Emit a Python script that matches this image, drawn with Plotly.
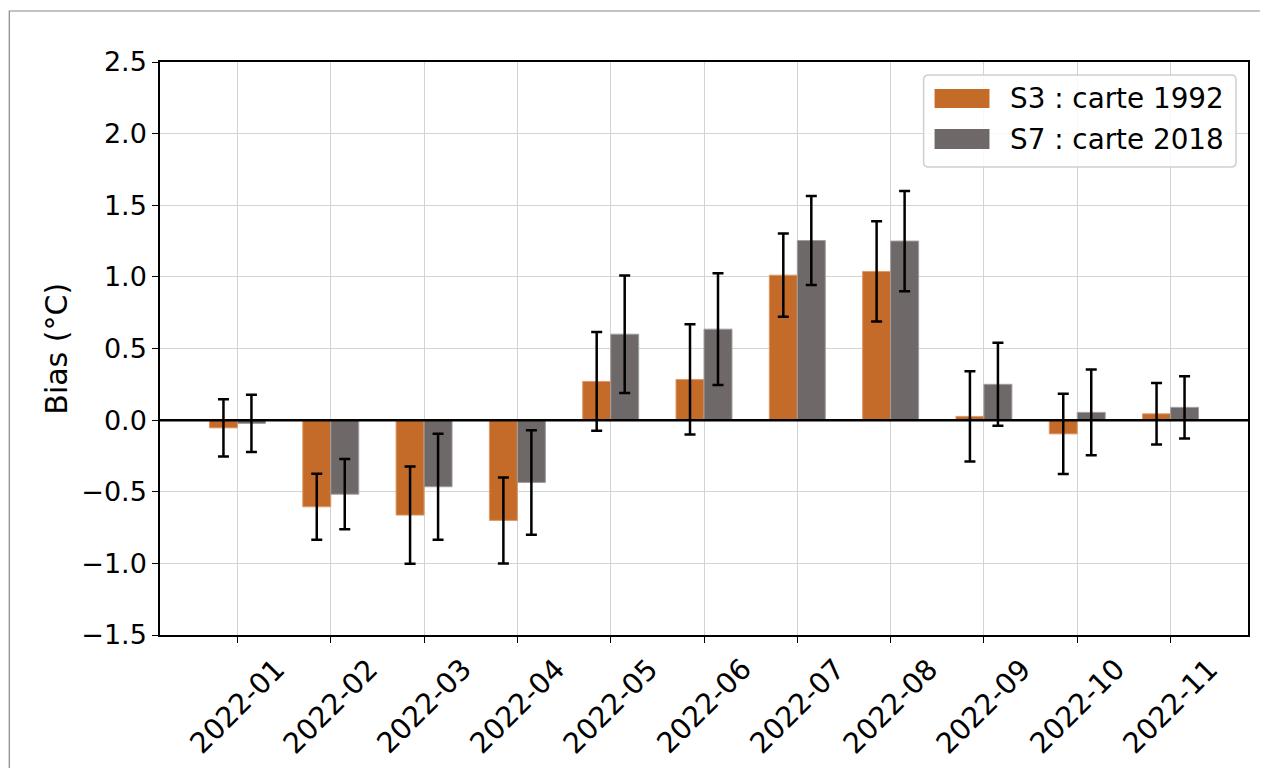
import plotly.graph_objects as go

months = ["2022-01", "2022-02", "2022-03", "2022-04", "2022-05", "2022-06",
          "2022-07", "2022-08", "2022-09", "2022-10", "2022-11"]
s3_bias = [-0.054, -0.605, -0.663, -0.70, 0.27, 0.284, 1.012, 1.038, 0.026, -0.096, 0.044]
s3_err = [0.20, 0.23, 0.34, 0.30, 0.345, 0.385, 0.29, 0.35, 0.315, 0.28, 0.215]
s7_bias = [-0.023, -0.517, -0.465, -0.435, 0.60, 0.635, 1.254, 1.25, 0.25, 0.054, 0.089]
s7_err = [0.20, 0.245, 0.37, 0.365, 0.41, 0.39, 0.31, 0.35, 0.29, 0.30, 0.217]
y_ticks = [-1.5, -1.0, -0.5, 0.0, 0.5, 1.0, 1.5, 2.0, 2.5]
y_ticktext = ["\u22121.5", "\u22121.0", "\u22120.5", "0.0", "0.5", "1.0", "1.5", "2.0", "2.5"]
series_names = ["S3 : carte 1992", "S7 : carte 2018"]
series_colors = ["#c46b29", "#6e6968"]
edge_colors = ["#dd9a66", "#a29e9d"]
y_title = "Bias (\u00b0C)"

xs = list(range(len(months)))
FONT = "DejaVu Sans"
FS_TICK = 27
FS_XTICK = 28.5
FS_LEG = 27.8
FS_TITLE = 30

# figure geometry (page body has an 8px margin)
W, H = 1252, 760
ML, MR, MT, MB = 152, 10, 54, 133
PW, PH = W - ML - MR, H - MT - MB


def px(xs_):  # screen x -> paper x
    return (xs_ - 8 - ML) / PW


def py(ys_):  # screen y -> paper y
    return (H - MB - (ys_ - 8)) / PH


fig = go.Figure()
for name, vals, errs, col, ecol in zip(series_names, [s3_bias, s7_bias], [s3_err, s7_err],
                                        series_colors, edge_colors):
    fig.add_trace(go.Bar(
        x=xs, y=vals, name=name, showlegend=False,
        marker=dict(color=col, line=dict(color=ecol, width=1)),
        error_y=dict(type="data", array=errs, color="black", thickness=2.5, width=5.5),
    ))

# legend drawn manually (wide colour patches like the original)
lx0, lx1, ly0, ly1, r = 925, 1238, 75, 167, 5
X0, X1, Y0, Y1 = px(lx0), px(lx1), py(ly0), py(ly1)
rx, ry = r / PW, r / PH
legend_path = (
    f"M {X0+rx},{Y0} L {X1-rx},{Y0} Q {X1},{Y0} {X1},{Y0-ry} "
    f"L {X1},{Y1+ry} Q {X1},{Y1} {X1-rx},{Y1} "
    f"L {X0+rx},{Y1} Q {X0},{Y1} {X0},{Y1+ry} "
    f"L {X0},{Y0-ry} Q {X0},{Y0} {X0+rx},{Y0} Z"
)
shapes = [
    dict(type="line", xref="paper", yref="y", x0=0, x1=1, y0=0, y1=0,
         line=dict(color="black", width=2.5), layer="above"),
    dict(type="rect", xref="paper", yref="paper", x0=px(9), x1=1.02,
         y0=-0.3, y1=py(11), line=dict(color="#888888", width=1.2),
         fillcolor="rgba(0,0,0,0)", layer="below"),
    dict(type="path", xref="paper", yref="paper", path=legend_path,
         fillcolor="rgba(255,255,255,0.85)", line=dict(color="#cfcfcf", width=1.5),
         layer="above"),
]
annotations = []
patch_rows = [(89, 108), (129, 149)]
for (t, b), name, col in zip(patch_rows, series_names, series_colors):
    shapes.append(dict(type="rect", xref="paper", yref="paper",
                       x0=px(936), x1=px(991), y0=py(b), y1=py(t),
                       fillcolor=col, line=dict(width=0), layer="above"))
    annotations.append(dict(xref="paper", yref="paper", x=px(1010), y=py((t + b) / 2),
                            xanchor="left", yanchor="middle", text=name, showarrow=False,
                            font=dict(family=FONT, size=FS_LEG, color="black")))

# rotated x tick labels, centred on their ticks (matplotlib style)
for i, m in zip(xs, months):
    annotations.append(dict(xref="x", yref="paper", x=i, y=py(650),
                            xanchor="center", yanchor="top", textangle=-45,
                            text=m, showarrow=False,
                            font=dict(family=FONT, size=FS_XTICK, color="black")))

# y axis title
annotations.append(dict(xref="paper", yref="paper", x=px(56), y=0.5,
                        xanchor="center", yanchor="middle", textangle=-90,
                        text=y_title, showarrow=False,
                        font=dict(family=FONT, size=FS_TITLE, color="black")))

fig.update_layout(
    width=W, height=H,
    barmode="group", bargap=0.4, bargroupgap=0,
    plot_bgcolor="white", paper_bgcolor="white",
    margin=dict(l=ML, r=MR, t=MT, b=MB),
    font=dict(family=FONT, size=FS_TICK, color="black"),
    shapes=shapes, annotations=annotations,
)
fig.update_xaxes(
    range=[-0.83, 10.83], tickvals=xs, showticklabels=False,
    showgrid=True, gridcolor="#d3d3d3", gridwidth=1,
    showline=True, linecolor="black", linewidth=1.5, mirror=True,
    ticks="outside", ticklen=6, tickcolor="black", zeroline=False,
)
fig.update_yaxes(
    range=[-1.5, 2.5], tickvals=y_ticks, ticktext=y_ticktext,
    showgrid=True, gridcolor="#d3d3d3", gridwidth=1,
    showline=True, linecolor="black", linewidth=1.5, mirror=True,
    ticks="outside", ticklen=6, tickcolor="black",
    tickfont=dict(family=FONT, size=FS_TICK), zeroline=False,
)

fig.write_html("out.html")
